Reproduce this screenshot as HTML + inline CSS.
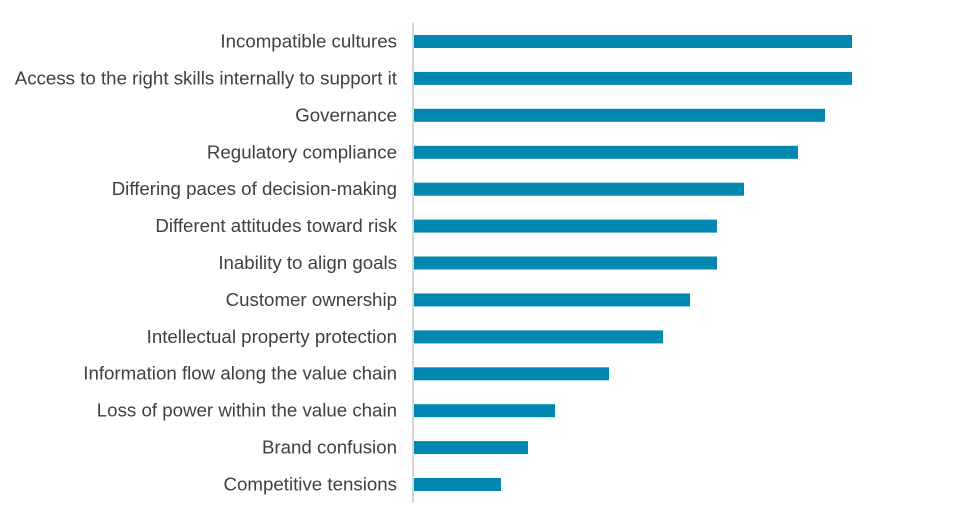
<!DOCTYPE html>
<html><head><style>
body{margin:0;background:#fff;}
</style></head><body>
<svg width="962" height="526" xmlns="http://www.w3.org/2000/svg" style="display:block">
<line x1="413" y1="23" x2="413" y2="503" stroke="#c8c8c8" stroke-width="1.5"/>
<g fill="#0088B0">
<rect x="414" y="35" width="438" height="13"/>
<rect x="414" y="71.9" width="438" height="13"/>
<rect x="414" y="108.8" width="411" height="13"/>
<rect x="414" y="145.8" width="384" height="13"/>
<rect x="414" y="182.7" width="330" height="13"/>
<rect x="414" y="219.6" width="303" height="13"/>
<rect x="414" y="256.5" width="303" height="13"/>
<rect x="414" y="293.4" width="276" height="13"/>
<rect x="414" y="330.4" width="249" height="13"/>
<rect x="414" y="367.3" width="195" height="13"/>
<rect x="414" y="404.2" width="141" height="13"/>
<rect x="414" y="441.1" width="114" height="13"/>
<rect x="414" y="478" width="87" height="13"/>
</g>
<g font-family="Liberation Sans, sans-serif" font-size="18.7" fill="#404040" text-anchor="end">
<text x="397" y="47.5">Incompatible cultures</text>
<text x="397" y="84.5">Access to the right skills internally to support it</text>
<text x="397" y="121.5">Governance</text>
<text x="397" y="158.5">Regulatory compliance</text>
<text x="397" y="195">Differing paces of decision-making</text>
<text x="397" y="232">Different attitudes toward risk</text>
<text x="397" y="269">Inability to align goals</text>
<text x="397" y="306">Customer ownership</text>
<text x="397" y="343">Intellectual property protection</text>
<text x="397" y="379.5">Information flow along the value chain</text>
<text x="397" y="416.5">Loss of power within the value chain</text>
<text x="397" y="453.5">Brand confusion</text>
<text x="397" y="490.5">Competitive tensions</text>
</g>
</svg>
</body></html>
